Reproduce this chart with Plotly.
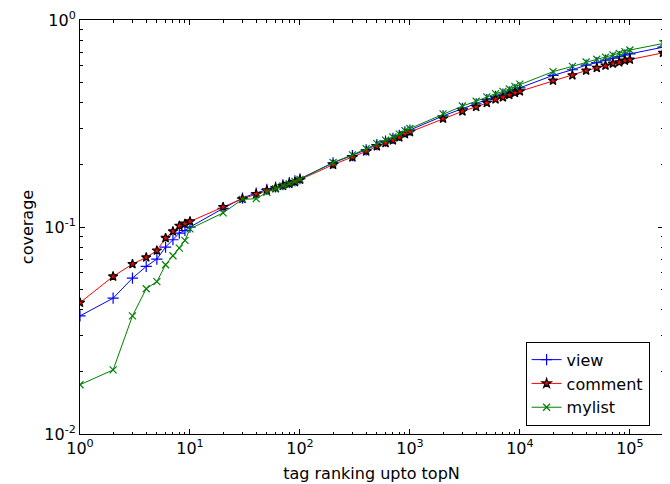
import math
import plotly.graph_objects as go

topN = [1, 2, 3, 4, 5, 6, 7, 8, 9, 10,
        20, 30, 40, 50, 60, 70, 80, 90, 100,
        200, 300, 400, 500, 600, 700, 800, 900, 1000,
        2000, 3000, 4000, 5000, 6000, 7000, 8000, 9000, 10000,
        20000, 30000, 40000, 50000, 60000, 70000, 80000, 90000, 100000,
        200000]

view = [0.0372, 0.0453, 0.0566, 0.0645, 0.0700, 0.0800, 0.0868, 0.0935, 0.0962, 0.0999,
        0.123, 0.138, 0.146, 0.152, 0.156, 0.160, 0.164, 0.167, 0.171,
        0.204, 0.221, 0.236, 0.250, 0.260, 0.268, 0.277, 0.288, 0.294,
        0.344, 0.374, 0.394, 0.412, 0.428, 0.438, 0.450, 0.461, 0.470,
        0.540, 0.575, 0.605, 0.623, 0.640, 0.655, 0.665, 0.678, 0.686,
        0.739]

comment = [0.0431, 0.0577, 0.0662, 0.0713, 0.0770, 0.0885, 0.0952, 0.1014, 0.1037, 0.1064,
           0.1249, 0.1369, 0.1443, 0.1502, 0.1543, 0.1583, 0.1619, 0.1650, 0.1693,
           0.2000, 0.2170, 0.2318, 0.2453, 0.2547, 0.2622, 0.2711, 0.2815, 0.2878,
           0.3340, 0.3622, 0.3803, 0.3977, 0.4140, 0.4233, 0.4347, 0.4445, 0.4524,
           0.5097, 0.5408, 0.5697, 0.5871, 0.6024, 0.6160, 0.6250, 0.6369, 0.6440,
           0.6940]

mylist = [0.0173, 0.0204, 0.0372, 0.0503, 0.0545, 0.0657, 0.0726, 0.0791, 0.0861, 0.0980,
          0.117, 0.136, 0.137, 0.147, 0.153, 0.158, 0.162, 0.166, 0.170,
          0.205, 0.223, 0.239, 0.253, 0.263, 0.272, 0.281, 0.292, 0.299,
          0.352, 0.384, 0.405, 0.425, 0.441, 0.452, 0.465, 0.478, 0.490,
          0.563, 0.597, 0.627, 0.646, 0.662, 0.678, 0.690, 0.703, 0.716,
          0.770]

x_ticks = [1, 10, 100, 1000, 10000, 100000]
x_ticktext = ["10<sup>0</sup>", "10<sup>1</sup>", "10<sup>2</sup>", "10<sup>3</sup>",
              "10<sup>4</sup>", "10<sup>5</sup>"]
y_ticks = [0.01, 0.1, 1]
y_ticktext = ["10<sup>-2</sup>", "10<sup>-1</sup>", "10<sup>0</sup>"]

x_minor = [m * 10 ** e for e in range(0, 6) for m in range(2, 10)]
y_minor = [m * 10 ** e for e in range(-2, 0) for m in range(2, 10)]

fig = go.Figure()
fig.add_trace(go.Scatter(
    x=topN, y=view, name="view", mode="lines+markers",
    line=dict(color="#0000ff", width=1),
    marker=dict(symbol="cross-thin", size=8, line=dict(color="#0000ff", width=1.2)),
))
fig.add_trace(go.Scatter(
    x=topN, y=comment, name="comment", mode="lines+markers",
    line=dict(color="#ff0000", width=1),
    marker=dict(symbol="star", size=7, color="#ff0000", line=dict(color="black", width=1.2)),
))
fig.add_trace(go.Scatter(
    x=topN, y=mylist, name="mylist", mode="lines+markers",
    line=dict(color="#008000", width=1),
    marker=dict(symbol="x-thin", size=7, line=dict(color="#008000", width=1.2)),
))

axis_common = dict(
    showline=True, linecolor="black", linewidth=1, mirror="ticks",
    ticks="inside", ticklen=5, tickcolor="black", showgrid=False, zeroline=False,
    tickfont=dict(family="DejaVu Sans", size=16, color="black"),
)

fig.update_xaxes(
    type="log", range=[0, math.log10(200000)],
    tickmode="array", tickvals=x_ticks, ticktext=x_ticktext,
    minor=dict(tickmode="array", tickvals=x_minor, ticks="inside", ticklen=2.5, tickcolor="black", showgrid=False),
    title=dict(text="tag ranking upto topN", font=dict(family="DejaVu Sans", size=16, color="black"), standoff=10),
    **axis_common,
)
fig.update_yaxes(
    type="log", range=[-2, 0],
    tickmode="array", tickvals=y_ticks, ticktext=y_ticktext,
    minor=dict(tickmode="array", tickvals=y_minor, ticks="inside", ticklen=2.5, tickcolor="black", showgrid=False),
    title=dict(text="coverage", font=dict(family="DejaVu Sans", size=16, color="black"), standoff=6),
    **axis_common,
)

# page body has an 8px default margin, so the figure is offset by (8, 8)
fig.update_layout(
    width=662, height=476,
    margin=dict(l=72, r=7, t=12, b=50, autoexpand=False),
    paper_bgcolor="white", plot_bgcolor="white",
    font=dict(family="DejaVu Sans", size=16, color="black"),
    legend=dict(
        x=0.977, y=0.02, xanchor="right", yanchor="bottom",
        bordercolor="black", borderwidth=1, bgcolor="white",
        font=dict(family="DejaVu Sans", size=16, color="black"),
        itemwidth=30, tracegroupgap=2,
    ),
)

fig.write_html("out.html")
